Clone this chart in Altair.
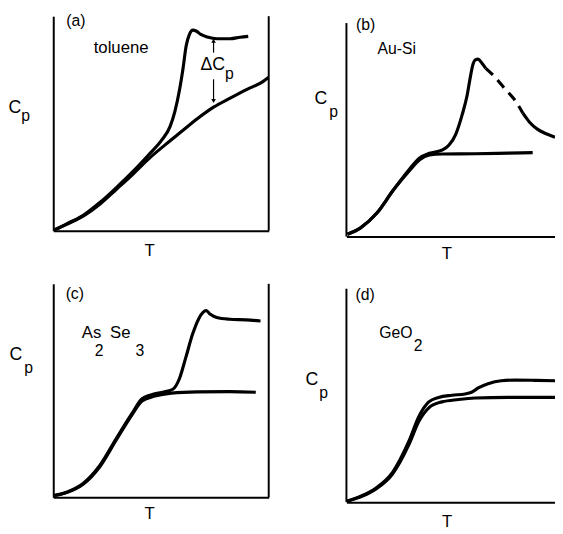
import altair as alt
import pandas as pd

FONT = "Liberation Sans"

# ---------------- data (arbitrary T / Cp units, 0..100) ----------------
# (a) toluene
a_lower_T = [0.5, 6.5, 14.1, 21.6, 29.2, 36.8, 44.3, 51.9, 59.5, 67.0, 74.6, 82.1, 89.7, 97.3, 100]
a_lower_Cp = [0.3, 3.1, 6.9, 12.3, 19.2, 26.2, 33.5, 40.0, 46.2, 52.3, 57.7, 61.8, 65.8, 69.5, 71.5]
a_upper_T = [0.5, 6.5, 14.1, 21.6, 29.2, 36.8, 44.3, 50.4, 54.2, 56.4, 58.7, 60.2, 61.7, 63.2, 64.8, 66.3, 68.5, 71.5, 76.1, 82.1, 86.7, 90.5]
a_upper_Cp = [0.3, 3.3, 7.3, 13.1, 20.0, 27.4, 35.4, 42.3, 48.5, 55.4, 66.2, 75.4, 86.2, 91.5, 93.5, 93.1, 91.5, 90.3, 89.5, 89.5, 90.2, 90.6]

# (b) Au-Si
b_lower_T = [0.5, 6.8, 14.6, 22.5, 30.3, 35.1, 39.8, 46.1, 61.8, 77.5, 89.3]
b_lower_Cp = [1.1, 4.1, 11.0, 21.8, 31.0, 36.0, 38.2, 38.7, 38.8, 39.1, 39.3]
b_upper_T = [0.5, 6.8, 14.6, 22.5, 30.3, 35.1, 39.8, 46.1, 49.2, 52.4, 55.5, 57.9, 59.4, 60.5, 61.8, 63.1, 64.9, 66.8]
b_upper_Cp = [1.1, 4.1, 11.0, 21.8, 31.7, 36.8, 39.0, 40.6, 42.9, 47.9, 57.1, 66.3, 74.7, 80.1, 82.8, 83.1, 81.3, 78.8]
b_dash_T = [66.8, 71.2, 75.9, 80.7, 84.6]
b_dash_Cp = [78.8, 74.7, 69.3, 64.0, 57.8]
b_tail_T = [84.6, 87.7, 91.7, 96.4, 100]
b_tail_Cp = [57.8, 53.7, 50.2, 47.9, 46.5]

# (c) As2Se3
c_lower_T = [0.5, 6.5, 14.0, 21.6, 29.1, 36.7, 41.2, 47.2, 54.8, 66.8, 81.9, 94.0]
c_lower_Cp = [0.8, 2.3, 6.2, 14.3, 26.6, 38.9, 45.1, 47.4, 48.8, 49.4, 49.5, 49.2]
c_upper_T = [0.5, 6.5, 14.0, 21.6, 29.1, 36.7, 41.2, 47.2, 51.7, 55.5, 58.5, 61.5, 64.6, 67.6, 69.5, 71.0, 72.9, 75.9, 81.9, 89.4, 96.2]
c_upper_Cp = [0.8, 2.5, 6.6, 14.9, 27.3, 39.5, 46.2, 48.5, 49.4, 50.6, 55.4, 65.4, 76.2, 83.8, 86.6, 87.4, 85.7, 84.2, 83.4, 83.1, 82.6]

# (d) GeO2
d_lower_T = [0.3, 6.3, 14.2, 22.1, 30.0, 34.8, 39.5, 45.8, 53.7, 61.6, 77.4, 100]
d_lower_Cp = [0.5, 2.3, 6.2, 13.2, 27.1, 38.0, 44.2, 47.0, 48.1, 48.8, 49.1, 49.1]
d_upper_T = [0.3, 6.3, 14.2, 22.1, 30.0, 34.8, 39.5, 44.2, 50.6, 56.9, 60.0, 63.2, 67.9, 74.2, 80.6, 90.0, 100]
d_upper_Cp = [0.5, 2.6, 6.7, 14.0, 28.7, 40.3, 47.0, 49.1, 50.1, 50.7, 51.5, 53.5, 55.5, 56.9, 57.2, 57.1, 56.9]

# text labels: (text, T, Cp, fontSize)
a_labels = [("(a)", 10.5, 97.9, 16), ("toluene", 31.5, 85.3, 17), ("\u0394C", 74.0, 77.1, 18),
            ("p", 81.7, 72.9, 16), ("C", -17.8, 57.3, 18), ("p", -12.8, 53.2, 16), ("T", 44.7, -9.6, 17)]
b_labels = [("(b)", 9.2, 99.3, 16), ("Au-Si", 24.1, 87.8, 16), ("C", -12.3, 64.3, 18),
            ("p", -6.1, 58.3, 16), ("T", 48.1, -8.3, 17)]
c_labels = [("(c)", 10.0, 95.2, 16), ("As", 17.8, 76.7, 17), ("2", 21.3, 68.7, 16), ("Se", 31.1, 76.7, 17),
            ("3", 40.2, 68.7, 16), ("C", -17.4, 66.4, 18), ("p", -11.4, 60.4, 16), ("T", 44.7, -8.0, 17)]
d_labels = [("(d)", 9.0, 97.2, 16), ("GeO", 23.7, 79.0, 16), ("2", 34.4, 73.0, 16), ("C", -16.6, 57.1, 18),
            ("p", -10.9, 51.2, 16), ("T", 48.3, -9.5, 17)]

# Delta Cp arrows in (a): (T, Cp_from, Cp_to)
a_arrows = [(74.4, 83.0, 88.5), (74.4, 70.6, 60.5)]


def curves_df(parts):
    rows = []
    for name, style, ts, cps in parts:
        for i, (t, c) in enumerate(zip(ts, cps)):
            rows.append({"curve": name, "style": style, "i": i, "T": t, "Cp": c})
    return pd.DataFrame(rows)


def labels_df(labels):
    return pd.DataFrame([{"label": l, "T": t, "Cp": c, "fs": f} for l, t, c, f in labels])


def make_panel(parts, labels, width, height, ymax, right_border=False, left_rule=False, arrows=None):
    xs = alt.Scale(domain=[0, 100], nice=False, zero=False)
    ys = alt.Scale(domain=[0, ymax], nice=False, zero=False)
    xaxis = alt.Axis(labels=False, ticks=False, title=None, grid=False,
                     domainColor="black", domainWidth=2)
    yaxis = alt.Axis(labels=False, ticks=False, title=None, grid=False,
                     domain=not left_rule, domainColor="black", domainWidth=2)
    df = curves_df(parts)
    base = alt.Chart(df)
    layers = [
        base.transform_filter(alt.datum.style == "solid").mark_line(
            color="black", strokeWidth=3.2, interpolate="monotone", clip=True
        ).encode(
            x=alt.X("T:Q", scale=xs, axis=xaxis),
            y=alt.Y("Cp:Q", scale=ys, axis=yaxis),
            detail="curve:N", order="i:Q",
        )
    ]
    if (df["style"] == "dash").any():
        layers.append(
            base.transform_filter(alt.datum.style == "dash").mark_line(
                color="black", strokeWidth=3.2, interpolate="monotone", strokeDash=[10, 7], clip=True
            ).encode(x="T:Q", y="Cp:Q", detail="curve:N", order="i:Q")
        )
    frame = []
    if right_border:
        frame.append({"T": 100, "Cp": 0, "Cp2": 100})
    if left_rule:
        frame.append({"T": 0, "Cp": 0, "Cp2": 100})
    if frame:
        layers.append(
            alt.Chart(pd.DataFrame(frame)).mark_rule(color="black", strokeWidth=2)
            .encode(x="T:Q", y="Cp:Q", y2="Cp2:Q")
        )
    if arrows:
        adf = pd.DataFrame([{"T": t, "Cp": a, "Cp2": b, "shape": "triangle-up" if b > a else "triangle-down"}
                            for t, a, b in arrows])
        layers.append(
            alt.Chart(adf).mark_rule(color="black", strokeWidth=1.2)
            .encode(x="T:Q", y="Cp:Q", y2="Cp2:Q")
        )
        layers.append(
            alt.Chart(adf).mark_point(filled=True, color="black", size=22, opacity=1)
            .encode(x="T:Q", y="Cp2:Q", shape=alt.Shape("shape:N", scale=None, legend=None))
        )
    layers.append(
        alt.Chart(labels_df(labels)).mark_text(
            font=FONT, color="black", align="center", baseline="middle"
        ).encode(x="T:Q", y="Cp:Q", text="label:N", size=alt.Size("fs:Q", scale=None, legend=None))
    )
    return alt.layer(*layers).properties(width=width, height=height)


pa = make_panel([("lo", "solid", a_lower_T, a_lower_Cp), ("up", "solid", a_upper_T, a_upper_Cp)],
                a_labels, 219, 218, 100, right_border=True, arrows=a_arrows)
pb = make_panel([("lo", "solid", b_lower_T, b_lower_Cp), ("up", "solid", b_upper_T, b_upper_Cp),
                 ("dash", "dash", b_dash_T, b_dash_Cp), ("tail", "solid", b_tail_T, b_tail_Cp)],
                b_labels, 212, 224, 100 * 224 / 217, left_rule=True)
pc = make_panel([("lo", "solid", c_lower_T, c_lower_Cp), ("up", "solid", c_upper_T, c_upper_Cp)],
                c_labels, 219, 217, 100, right_border=True)
pd_ = make_panel([("lo", "solid", d_lower_T, d_lower_Cp), ("up", "solid", d_upper_T, d_upper_Cp)],
                 d_labels, 212, 222, 100 * 222 / 217, left_rule=True)

chart = alt.concat(pa, pb, pc, pd_, columns=2, bounds="flush",
                   spacing={"row": 48, "column": 79}, align="none").properties(
    padding={"left": 0, "top": 0, "right": 0, "bottom": 0}, background="white"
).configure_view(stroke=None)

chart.save("out.html", embed_options={"renderer": "svg", "actions": False})
